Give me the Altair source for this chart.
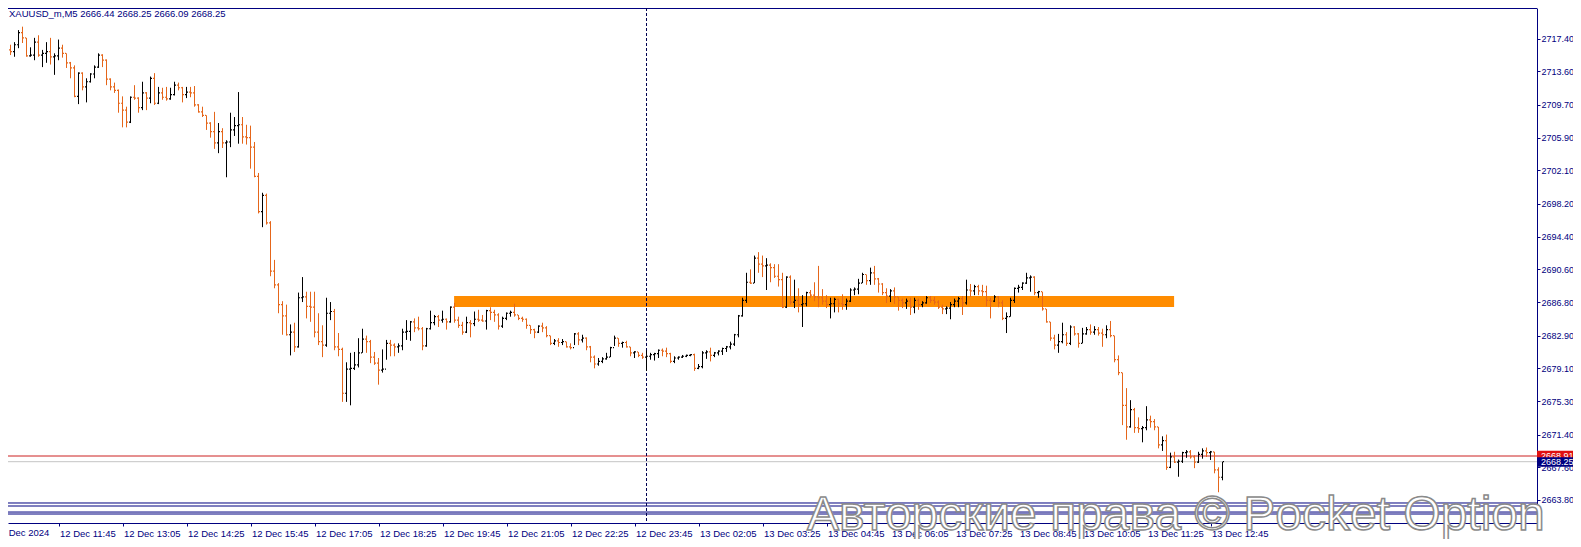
import json
import altair as alt
import pandas as pd

# ---------------- data ----------------
symbol = "XAUUSD_m,M5"
first_open = 2718.3

highs = [
2718.4,2717.5,2716.7,2717.0,2718.4,2718.8,2717.5,2716.4,2717.5,2717.8,
2716.1,2717.0,2717.5,2715.7,2717.3,2716.7,2715.7,2714.7,2714.3,2713.5,
2713.5,2712.8,2713.4,2714.3,2715.7,2715.6,2715.0,2712.8,2712.3,2711.5,
2710.7,2709.5,2710.7,2712.0,2710.6,2712.4,2711.2,2713.0,2713.4,2711.8,
2711.7,2711.8,2711.7,2712.4,2712.3,2711.8,2711.8,2711.8,2711.9,2709.8,
2709.5,2708.5,2707.7,2708.9,2707.6,2707.0,2705.6,2708.8,2708.3,2711.2,
2708.3,2707.4,2707.3,2705.4,2701.8,2699.5,2699.4,2696.2,2691.7,2689.0,
2686.9,2686.5,2684.2,2684.4,2687.9,2689.7,2688.0,2688.0,2688.0,2685.5,
2684.1,2687.3,2686.8,2686.0,2683.2,2681.5,2679.8,2680.9,2681.0,2682.6,
2683.7,2682.9,2682.4,2681.0,2680.3,2681.3,2682.4,2682.4,2682.0,2682.0,
2683.7,2684.7,2684.6,2684.9,2685.1,2683.9,2683.8,2685.8,2685.3,2685.3,
2685.8,2684.9,2686.3,2686.7,2685.1,2684.5,2685.1,2684.7,2685.7,2685.9,
2685.3,2685.9,2686.2,2685.9,2685.5,2685.1,2685.6,2685.8,2686.6,2685.3,
2685.1,2684.9,2684.1,2683.7,2684.1,2684.4,2684.0,2682.9,2682.5,2682.6,
2682.5,2682.2,2682.0,2683.2,2683.3,2683.0,2682.7,2681.7,2680.6,2680.3,
2680.4,2680.9,2681.6,2682.9,2682.6,2682.2,2682.3,2681.6,2681.1,2681.0,
2680.9,2681.2,2680.9,2680.9,2681.3,2681.4,2681.5,2680.9,2680.5,2680.5,
2680.65,2680.7,2680.75,2680.8,2679.6,2681.1,2681.2,2681.5,2681.0,2681.2,
2681.5,2681.7,2682.2,2683.1,2685.3,2687.3,2690.2,2690.6,2692.2,2692.6,
2692.2,2691.9,2691.3,2691.2,2691.2,2690.2,2689.8,2689.9,2689.4,2688.4,
2687.6,2688.0,2688.2,2689.1,2691.0,2688.3,2687.6,2687.3,2687.3,2687.2,
2687.7,2687.2,2688.4,2688.5,2689.5,2690.2,2690.0,2690.8,2691.0,2689.6,
2689.0,2688.4,2688.3,2688.5,2687.4,2687.2,2687.2,2687.3,2687.3,2687.2,
2686.9,2687.5,2687.5,2687.4,2687.0,2686.5,2686.3,2686.8,2687.2,2687.4,
2687.5,2689.4,2688.9,2688.8,2688.8,2688.8,2688.7,2687.3,2687.6,2687.5,
2687.0,2685.6,2687.3,2688.5,2688.8,2689.1,2690.2,2689.9,2689.8,2688.1,
2688.0,2686.0,2684.5,2683.0,2683.1,2684.4,2683.3,2684.1,2684.0,2683.2,
2683.8,2683.9,2684.2,2684.0,2683.9,2683.7,2684.1,2684.6,2682.9,2680.6,
2678.6,2676.8,2675.4,2674.5,2673.4,2672.4,2674.7,2673.6,2673.2,2672.3,
2671.2,2671.4,2669.3,2669.4,2668.5,2669.4,2669.6,2669.6,2669.0,2669.4,
2669.8,2669.9,2669.5,2669.4,2667.6,2668.25]

lows = [
2717.1,2715.7,2715.5,2715.3,2716.3,2716.9,2715.3,2715.3,2714.9,2715.3,
2714.1,2714.6,2714.4,2713.2,2714.9,2715.2,2714.0,2712.8,2710.6,2709.8,
2711.4,2710.0,2712.3,2712.8,2714.0,2714.1,2712.0,2711.4,2711.1,2708.8,
2707.1,2707.1,2707.6,2710.3,2708.8,2709.1,2709.1,2709.9,2709.7,2709.8,
2710.3,2710.2,2710.3,2710.8,2711.4,2710.0,2710.5,2710.6,2709.5,2708.8,
2708.3,2706.8,2705.9,2704.6,2704.1,2704.7,2701.3,2704.8,2706.1,2705.2,
2705.2,2705.1,2702.3,2701.3,2697.1,2695.5,2695.8,2689.8,2688.4,2685.5,
2683.0,2682.9,2680.6,2681.0,2681.5,2686.8,2684.9,2684.5,2682.7,2681.8,
2680.4,2681.6,2684.7,2681.2,2680.5,2675.2,2675.2,2674.8,2678.9,2679.2,
2680.9,2680.9,2679.7,2679.5,2677.2,2678.6,2680.1,2680.5,2680.5,2680.9,
2681.2,2682.4,2682.3,2683.3,2683.5,2681.2,2681.6,2683.6,2684.1,2683.9,
2684.4,2683.6,2684.4,2684.4,2683.8,2683.0,2683.2,2682.7,2684.0,2684.5,
2684.5,2683.6,2684.7,2684.5,2683.6,2683.8,2684.7,2685.1,2685.1,2684.7,
2684.5,2683.7,2683.1,2682.6,2683.2,2683.3,2682.7,2681.8,2681.8,2681.6,
2681.8,2681.5,2681.3,2681.8,2681.8,2682.1,2681.2,2679.8,2679.1,2679.4,
2679.7,2680.1,2680.4,2681.7,2681.6,2681.5,2681.5,2680.5,2680.3,2680.4,
2680.2,2678.8,2680.1,2680.0,2680.3,2680.5,2680.4,2679.7,2679.7,2680.1,
2680.3,2680.4,2680.5,2678.8,2679.0,2679.1,2680.2,2679.9,2680.4,2680.6,
2680.65,2681.0,2681.3,2681.7,2682.7,2685.1,2686.7,2688.9,2689.0,2690.2,
2689.7,2688.2,2689.1,2689.6,2688.6,2686.1,2686.1,2686.5,2686.1,2685.6,
2683.9,2686.3,2687.3,2686.9,2686.2,2686.5,2686.1,2684.9,2685.6,2685.6,
2685.9,2685.9,2686.8,2687.6,2687.7,2689.0,2688.8,2688.8,2688.8,2687.9,
2687.6,2686.7,2686.8,2686.6,2685.8,2686.1,2686.0,2685.3,2685.5,2685.9,
2686.2,2686.6,2686.7,2686.5,2686.0,2685.4,2685.4,2684.8,2686.2,2686.2,
2685.3,2686.5,2687.4,2687.6,2687.6,2687.5,2686.3,2684.9,2686.8,2686.2,
2684.7,2683.2,2685.1,2686.7,2687.9,2688.2,2688.9,2688.0,2687.6,2687.3,
2685.8,2684.4,2682.3,2681.3,2680.9,2682.0,2681.7,2681.8,2682.9,2681.5,
2682.0,2683.0,2683.0,2683.0,2682.9,2681.6,2682.6,2682.7,2679.8,2678.3,
2672.5,2670.8,2672.2,2671.6,2671.6,2670.5,2671.9,2672.2,2671.9,2669.8,
2669.5,2667.3,2667.5,2668.1,2666.5,2668.1,2668.7,2668.6,2667.5,2668.1,
2668.6,2668.8,2668.45,2666.9,2664.7,2666.09]

closes = [
2717.4,2716.1,2715.9,2716.7,2718.1,2717.5,2715.4,2715.5,2717.0,2715.5,
2715.7,2715.9,2715.3,2715.4,2716.3,2715.7,2714.6,2714.0,2710.7,2713.4,
2711.8,2712.4,2713.3,2714.1,2715.5,2714.9,2712.7,2711.8,2711.4,2709.9,
2709.1,2707.7,2710.6,2710.5,2709.4,2711.1,2710.5,2712.8,2709.9,2711.1,
2710.6,2710.4,2710.9,2712.0,2711.7,2710.9,2711.2,2711.1,2709.7,2708.9,
2708.5,2707.6,2706.6,2705.3,2706.6,2705.3,2705.4,2706.8,2707.3,2707.4,
2706.0,2705.9,2704.8,2701.4,2697.3,2699.2,2696.0,2690.4,2688.8,2686.5,
2685.2,2683.0,2683.3,2681.6,2687.3,2687.4,2686.3,2686.2,2683.3,2682.2,
2681.8,2685.5,2685.7,2681.6,2681.3,2676.2,2679.0,2679.1,2679.5,2680.9,
2682.5,2682.2,2680.4,2679.7,2678.9,2679.0,2682.0,2681.8,2681.6,2681.7,
2683.3,2683.4,2684.5,2683.8,2683.7,2681.7,2683.7,2684.4,2685.1,2684.7,
2684.8,2684.5,2686.2,2684.7,2684.1,2683.3,2684.4,2684.3,2684.8,2684.7,
2684.6,2685.8,2685.6,2685.3,2684.0,2684.9,2685.5,2685.6,2685.3,2684.9,
2684.8,2684.1,2683.6,2683.3,2684.0,2683.8,2682.9,2682.0,2682.3,2682.1,
2682.2,2681.6,2681.5,2683.1,2682.4,2682.6,2681.6,2680.4,2679.6,2679.9,
2680.2,2680.4,2681.5,2682.6,2682.0,2682.1,2681.6,2680.9,2681.0,2680.6,
2680.4,2680.5,2680.7,2680.8,2681.2,2681.1,2680.8,2679.9,2680.3,2680.4,
2680.5,2680.6,2680.7,2679.1,2679.3,2680.9,2681.0,2680.6,2680.9,2681.1,
2681.4,2681.6,2681.9,2683.0,2685.2,2687.0,2689.1,2689.0,2691.9,2691.2,
2691.0,2691.1,2690.8,2689.8,2689.4,2686.2,2689.7,2686.8,2687.0,2686.5,
2686.6,2687.9,2687.6,2687.4,2687.3,2686.9,2686.5,2686.6,2687.1,2686.6,
2686.5,2686.9,2688.2,2688.3,2689.0,2690.0,2689.3,2690.2,2689.5,2688.9,
2687.9,2687.5,2688.1,2687.4,2687.0,2686.7,2686.9,2686.2,2687.0,2686.5,
2686.7,2687.3,2687.0,2686.8,2686.2,2686.0,2686.1,2686.5,2686.9,2687.2,
2686.7,2688.2,2688.1,2688.6,2688.1,2688.0,2687.0,2686.9,2687.4,2686.7,
2684.9,2685.1,2687.0,2688.4,2688.5,2689.0,2689.6,2689.7,2687.9,2688.0,
2686.0,2684.5,2682.6,2681.8,2682.2,2683.0,2682.0,2683.9,2683.1,2682.0,
2683.1,2683.6,2683.3,2683.6,2683.2,2683.0,2683.6,2682.9,2680.1,2678.6,
2674.8,2672.3,2674.3,2672.2,2672.1,2672.2,2673.1,2672.9,2672.3,2670.2,
2670.7,2667.6,2668.8,2668.2,2668.3,2669.3,2669.4,2668.8,2668.2,2669.1,
2669.5,2669.3,2669.4,2667.3,2666.44,2668.25]

x_tick_idx = [-2, 14, 30, 46, 62, 78, 94, 110, 126, 142, 158, 174, 190, 206,
              222, 238, 254, 270, 286, 302]
x_tick_labels = ["12 Dec 2024", "12 Dec 11:45", "12 Dec 13:05", "12 Dec 14:25",
                 "12 Dec 15:45", "12 Dec 17:05", "12 Dec 18:25", "12 Dec 19:45",
                 "12 Dec 21:05", "12 Dec 22:25", "12 Dec 23:45", "13 Dec 02:05",
                 "13 Dec 03:25", "13 Dec 04:45", "13 Dec 06:05", "13 Dec 07:25",
                 "13 Dec 08:45", "13 Dec 10:05", "13 Dec 11:25", "13 Dec 12:45"]
y_tick_vals = [2721.20, 2717.40, 2713.60, 2709.70, 2705.90, 2702.10, 2698.20,
               2694.40, 2690.60, 2686.80, 2682.90, 2679.10, 2675.30, 2671.40,
               2667.60, 2663.80]

zone_idx = [112.9, 292.9]
zone_price = [2687.50, 2686.22]
day_sep_idx = [161]
hline_prices = [2663.45, 2663.10, 2662.40, 2662.17]
ask_price = 2668.91
bid_price = 2668.25
watermark = "Авторские права © Pocket Option"

# ---------------- styling ----------------
W, H = 1529, 515
RIGHT = 36
NAVY = "#000080"
ORANGE = "#E5661A"
FONT = "Liberation Sans"
YSIZE = 9
XSIZE = 9.5
x_scale = alt.Scale(domain=[1.375, 1.375 + W / 4], nice=False, zero=False)
y_scale = alt.Scale(domain=[2661.126, 2720.968], nice=False, zero=False)

label_expr = f"{json.dumps(x_tick_labels)}[indexof({json.dumps(x_tick_idx)}, datum.value)]"
x_axis = alt.Axis(values=x_tick_idx[1:], labelExpr=label_expr, title=None, grid=False,
                  orient="bottom", labelAlign="left", labelBaseline="top",
                  labelPadding=2, labelOffset=1, tickSize=3, tickColor=NAVY,
                  domainColor=NAVY, labelColor=NAVY, labelFont=FONT, labelFontSize=XSIZE,
                  labelOverlap=False, labelFlush=False)
y_axis = alt.Axis(values=y_tick_vals, format=".2f", orient="right", title=None,
                  grid=False, tickSize=3, labelPadding=1, tickColor=NAVY,
                  domainColor=NAVY, labelColor=NAVY, labelFont=FONT, labelFontSize=YSIZE,
                  labelOverlap=False, labelFlush=False)


def X(f, **kw):
    return alt.X(f, type="quantitative", scale=x_scale, axis=x_axis, **kw)


def Y(f, **kw):
    return alt.Y(f, type="quantitative", scale=y_scale, axis=y_axis, **kw)


n = len(closes)
opens = [first_open] + closes[:-1]
bars = pd.DataFrame({
    "idx": list(range(n)),
    "open": opens, "high": highs, "low": lows, "close": closes,
})
bars["col"] = [ORANGE if c < o else "#000000" for o, c in zip(opens, closes)]
bars["xo1"] = bars["idx"] - 0.375
bars["xo2"] = bars["idx"] - 0.125
bars["xc1"] = bars["idx"] + 0.125
bars["xc2"] = bars["idx"] + 0.375

base = alt.Chart(bars)
color = alt.Color("col:N", scale=None)
vert = base.mark_rule(clip=True, strokeWidth=1).encode(
    x=X("idx"), y=Y("low"), y2="high", color=color)
open_t = base.mark_rule(clip=True, strokeWidth=1.2).encode(
    x=X("xo1"), x2="xo2", y=Y("open"), color=color)
close_t = base.mark_rule(clip=True, strokeWidth=1.2).encode(
    x=X("xc1"), x2="xc2", y=Y("close"), color=color)

top_line = alt.Chart(pd.DataFrame({"a": [0]})).mark_rule(color=NAVY, strokeWidth=1).encode(
    x=alt.value(0), x2=alt.value(W), y=alt.value(0.5))

hl = alt.Chart(pd.DataFrame({"p": hline_prices})).mark_rule(color=NAVY, strokeWidth=1).encode(
    x=alt.value(0), x2=alt.value(W), y=Y("p"))
ask_line = alt.Chart(pd.DataFrame({"p": [ask_price]})).mark_rule(color="#CC2020", strokeWidth=1).encode(
    x=alt.value(0), x2=alt.value(W), y=Y("p"))
bid_line = alt.Chart(pd.DataFrame({"p": [bid_price]})).mark_rule(color="#C4C4C4", strokeWidth=1).encode(
    x=alt.value(0), x2=alt.value(W), y=Y("p"))

sep = alt.Chart(pd.DataFrame({"k": day_sep_idx})).mark_rule(
    color="#000050", strokeWidth=1, strokeDash=[3, 2]).encode(
    x=X("k"), y=alt.value(0), y2=alt.value(H))

zone = alt.Chart(pd.DataFrame({"x1": [zone_idx[0]], "x2": [zone_idx[1]],
                               "p1": [zone_price[0]], "p2": [zone_price[1]]})).mark_rect(
    color="#FF8C00").encode(x=X("x1"), x2="x2", y=Y("p1"), y2="p2")

# first date label (partly outside the left edge, as in the reference)
first_lab = alt.Chart(pd.DataFrame({"k": x_tick_idx[:1], "t": x_tick_labels[:1]})).mark_text(
    align="left", baseline="top", font=FONT, fontSize=XSIZE, color=NAVY, dx=1, dy=5).encode(
    x=X("k"), y=alt.value(H), text="t:N")

ask_box = alt.Chart(pd.DataFrame({"p": [ask_price], "t": [f"{ask_price:.2f}"]}))
ask_rect = ask_box.transform_calculate(a="datum.p + 0.6", b="datum.p - 0.6").mark_rect(
    color="#E01010").encode(x=alt.value(W), x2=alt.value(W + RIGHT), y=Y("a:Q"), y2="b:Q")
ask_txt = ask_box.mark_text(align="left", baseline="middle", font=FONT, fontSize=YSIZE,
                            color="white").encode(x=alt.value(W + 4), y=Y("p"), text="t:N")
bid_box = alt.Chart(pd.DataFrame({"p": [bid_price], "t": [f"{bid_price:.2f}"]}))
bid_rect = bid_box.transform_calculate(a="datum.p + 0.53", b="datum.p - 0.6").mark_rect(
    color=NAVY).encode(x=alt.value(W), x2=alt.value(W + RIGHT), y=Y("a:Q"), y2="b:Q")
bid_txt = bid_box.mark_text(align="left", baseline="middle", font=FONT, fontSize=YSIZE,
                            color="white").encode(x=alt.value(W + 4), y=Y("p"), text="t:N")

title_text = f"{symbol}  {opens[-1]:.2f} {highs[-1]:.2f} {lows[-1]:.2f} {closes[-1]:.2f}"
title = alt.Chart(pd.DataFrame({"t": [title_text]})).mark_text(
    align="left", baseline="alphabetic", font=FONT, fontSize=9.5, color=NAVY).encode(
    x=alt.value(1), y=alt.value(9), text="t:N")

wm = alt.Chart(pd.DataFrame({"t": [watermark]})).mark_text(
    align="left", baseline="alphabetic", font=FONT, fontSize=48,
    fill="white", stroke="#8a8a8a", strokeWidth=1.5).encode(
    x=alt.value(799), y=alt.value(522), text="t:N")

chart = alt.layer(
    top_line, zone, hl, bid_line, ask_line, sep, vert, open_t, close_t,
    ask_rect, ask_txt, bid_rect, bid_txt, title, first_lab, wm
).properties(
    width=W, height=H,
    padding={"left": 0, "top": 0, "right": RIGHT, "bottom": 16},
    autosize=alt.AutoSizeParams(type="none"),
    background="white",
).configure_view(stroke="transparent")

chart.save("out.html", embed_options={"renderer": "svg", "actions": False})
